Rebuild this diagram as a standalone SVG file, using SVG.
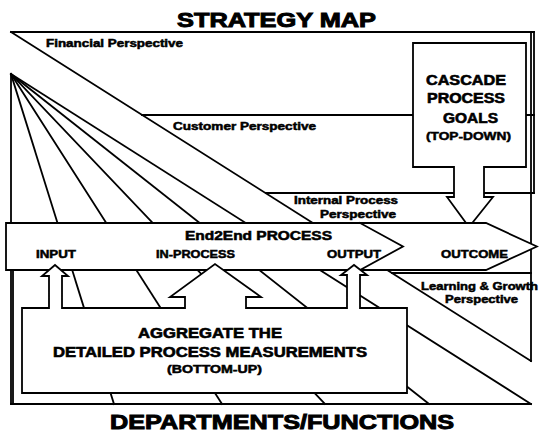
<svg xmlns="http://www.w3.org/2000/svg" width="539" height="431" viewBox="0 0 539 431">
<style>
.ln{stroke:#000;stroke-width:1.8;fill:none;stroke-linecap:square}
.sh{stroke:#000;stroke-width:1.8;fill:#fff;stroke-linejoin:miter}
text{font-family:"Liberation Sans",Arial,sans-serif;font-weight:bold;fill:#000;stroke:#000;stroke-width:0.5}
.ttl{font-size:21px;stroke-width:1}
.lbl{font-size:10.5px}
.big{font-size:14px;stroke-width:0.6}
.mid{font-size:11.5px}
.e2e{font-size:12.5px;stroke-width:0.55}
.sm{font-size:11px}
</style>
<rect width="539" height="431" fill="#fff"/>
<text class="ttl" x="177" y="27" textLength="199" lengthAdjust="spacingAndGlyphs">STRATEGY MAP</text>
<g id="connectors">
<polyline class="ln" points="11,32 534,32"/>
<line class="ln" x1="531" y1="32" x2="531" y2="361"/>
<line class="ln" x1="534" y1="32" x2="534" y2="193"/>
<line class="ln" x1="11" y1="32" x2="531" y2="361"/>
<line class="ln" x1="142" y1="115" x2="534" y2="115"/>
<line class="ln" x1="266" y1="193" x2="534" y2="193"/>
<line class="ln" x1="392" y1="273" x2="531" y2="273"/>
<line class="ln" x1="11" y1="74" x2="11" y2="404"/>
<line class="ln" x1="13" y1="270" x2="13" y2="404"/>
<line class="ln" x1="11" y1="74" x2="114" y2="404"/>
<line class="ln" x1="11" y1="74" x2="222" y2="404"/>
<line class="ln" x1="11" y1="74" x2="325" y2="404"/>
<line class="ln" x1="11" y1="74" x2="429" y2="404"/>
<line class="ln" x1="11" y1="74" x2="531" y2="404"/>
<line class="ln" x1="11" y1="404" x2="531" y2="404"/>
</g>
<g id="perspectives">
<text class="lbl" x="46" y="47" textLength="137" lengthAdjust="spacingAndGlyphs">Financial Perspective</text>
<text class="lbl" x="173" y="130" textLength="143" lengthAdjust="spacingAndGlyphs">Customer Perspective</text>
<text class="lbl" x="294" y="204" textLength="104" lengthAdjust="spacingAndGlyphs">Internal Process</text>
<text class="lbl" x="320" y="218" textLength="76" lengthAdjust="spacingAndGlyphs">Perspective</text>
<text class="lbl" x="421" y="290" textLength="117" lengthAdjust="spacingAndGlyphs">Learning &amp; Growth</text>
<text class="lbl" x="445" y="303" textLength="73" lengthAdjust="spacingAndGlyphs">Perspective</text>
</g>
<g id="cascade">
<polygon class="sh" points="413,43 526,43 526,167 484,167 484,197 493,197 469,227 447,197 454,197 454,167 413,167"/>
<text class="big" x="426" y="85" textLength="80" lengthAdjust="spacingAndGlyphs">CASCADE</text>
<text class="big" x="427" y="103" textLength="78" lengthAdjust="spacingAndGlyphs">PROCESS</text>
<text class="big" x="443" y="123" textLength="55" lengthAdjust="spacingAndGlyphs">GOALS</text>
<text class="mid" x="426" y="140" textLength="85" lengthAdjust="spacingAndGlyphs">(TOP-DOWN)</text>
</g>
<g id="end2end">
<polygon class="sh" points="6,223 486,223 537,246.5 486,270 6,270"/>
<polyline class="ln" points="360,223 403,246.5 360,270"/>
<text class="e2e" x="185" y="240" textLength="147" lengthAdjust="spacingAndGlyphs">End2End PROCESS</text>
<text class="sm" x="36" y="258" textLength="40" lengthAdjust="spacingAndGlyphs">INPUT</text>
<text class="sm" x="156" y="258" textLength="79" lengthAdjust="spacingAndGlyphs">IN-PROCESS</text>
<text class="sm" x="327" y="258" textLength="54" lengthAdjust="spacingAndGlyphs">OUTPUT</text>
<text class="sm" x="441" y="258" textLength="67" lengthAdjust="spacingAndGlyphs">OUTCOME</text>
</g>
<g id="aggregate">
<polygon class="sh" points="22,308 49,308 49,276 42,276 55,265 68,276 62,276 62,308 185,308 185,297 170,297 215,264 261,297 246,297 246,308 347,308 347,275 341,275 354,265 367,275 360,275 360,308 407,308 407,393 22,393"/>
<text class="big" x="138" y="338" textLength="144" lengthAdjust="spacingAndGlyphs">AGGREGATE THE</text>
<text class="big" x="53" y="357" textLength="314" lengthAdjust="spacingAndGlyphs">DETAILED PROCESS MEASUREMENTS</text>
<text class="sm" x="167" y="373" textLength="95" lengthAdjust="spacingAndGlyphs">(BOTTOM-UP)</text>
</g>
<text class="ttl" x="110" y="428.5" textLength="344" lengthAdjust="spacingAndGlyphs">DEPARTMENTS/FUNCTIONS</text>
</svg>
